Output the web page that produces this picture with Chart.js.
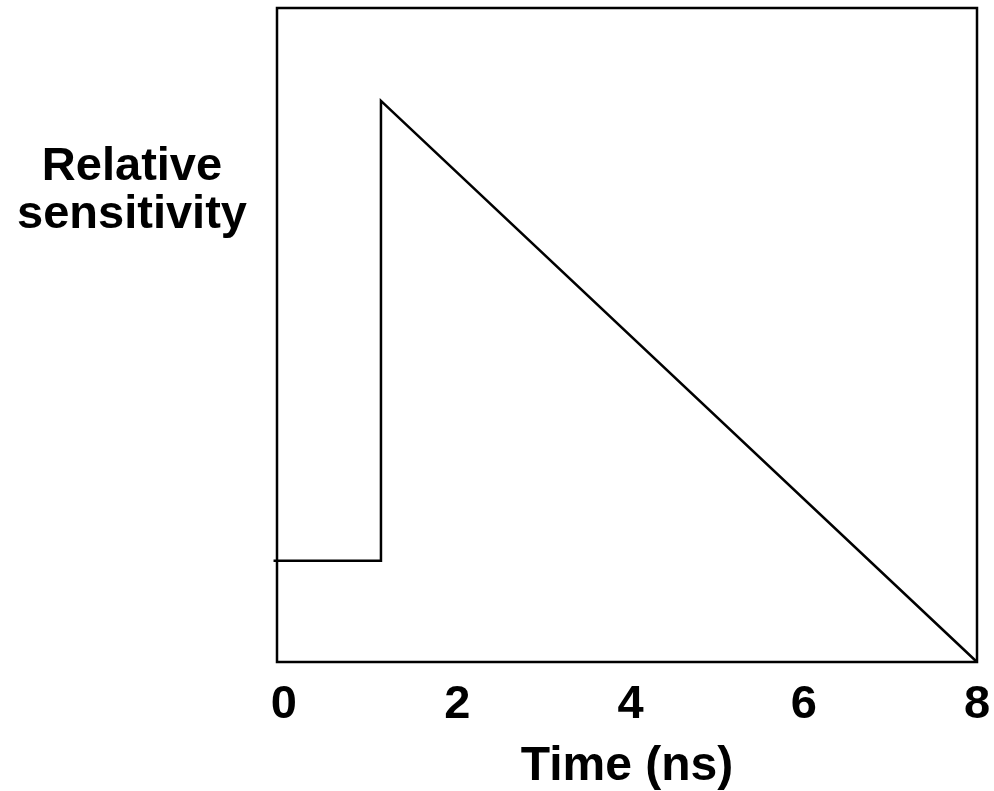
<!DOCTYPE html>
<html>
<head>
<meta charset="utf-8">
<script src="https://cdn.jsdelivr.net/npm/chart.js@4"></script>
<style>
  html, body { margin: 0; padding: 0; background: #fff; }
  #wrap { width: 994px; height: 791px; }
</style>
</head>
<body>
<div id="wrap"><canvas id="chart"></canvas></div>
<script>
// DATA
const timeNs = [-0.12, 1.12, 1.12, 8];
const sensitivity = [0.155, 0.155, 0.858, 0];
const xTicks = [0, 2, 4, 6, 8];
const xTitle = 'Time (ns)';
const yTitle = ['Relative', 'sensitivity'];

const FONT = '"Liberation Sans", Arial, Helvetica, sans-serif';

// frame round the plot area
const framePlugin = {
    id: 'frame',
    afterDraw(chart) {
        const { ctx, chartArea: a } = chart;
        ctx.save();
        ctx.strokeStyle = '#000';
        ctx.lineWidth = 2.5;
        ctx.strokeRect(a.left, a.top, a.right - a.left, a.bottom - a.top);
        ctx.restore();
    }
};

// horizontal y title on the left
const yTitlePlugin = {
    id: 'yTitle',
    afterDraw(chart) {
        const { ctx } = chart;
        ctx.save();
        ctx.fillStyle = '#000';
        ctx.font = 'bold 47px ' + FONT;
        ctx.textAlign = 'center';
        ctx.textBaseline = 'alphabetic';
        ctx.fillText(yTitle[0], 132, 180);
        ctx.fillText(yTitle[1], 132, 228);
        ctx.restore();
    }
};

const points = timeNs.map((t, i) => ({ x: t, y: sensitivity[i] }));

const myChart = new Chart(document.getElementById('chart').getContext('2d'), {
    type: 'line',
    data: {
        datasets: [{
            data: points,
            borderColor: '#000',
            borderWidth: 2.5,
            pointRadius: 0,
            tension: 0,
            fill: false,
            clip: false
        }]
    },
    options: {
        responsive: true,
        maintainAspectRatio: false,
        animation: false,
        layout: { padding: { left: 277, top: 8, right: 17, bottom: 0 } },
        plugins: {
            legend: { display: false },
            tooltip: { enabled: false }
        },
        scales: {
            x: {
                type: 'linear',
                min: -0.08,
                max: 8,
                grid: { display: false, drawTicks: false },
                border: { display: false },
                afterBuildTicks: (axis) => {
                    axis.ticks = xTicks.map(v => ({ value: v }));
                },
                afterFit: (axis) => {
                    axis.height = 129;
                    axis.paddingLeft = 0;
                    axis.paddingRight = 0;
                },
                ticks: {
                    color: '#000',
                    padding: 15,
                    font: { family: FONT, size: 47, weight: 'bold' }
                },
                title: {
                    display: true,
                    text: xTitle,
                    color: '#000',
                    padding: 0,
                    font: { family: FONT, size: 48, weight: 'bold', lineHeight: 1 }
                }
            },
            y: {
                display: false,
                min: 0,
                max: 1
            }
        }
    },
    plugins: [framePlugin, yTitlePlugin]
});
</script>
</body>
</html>
